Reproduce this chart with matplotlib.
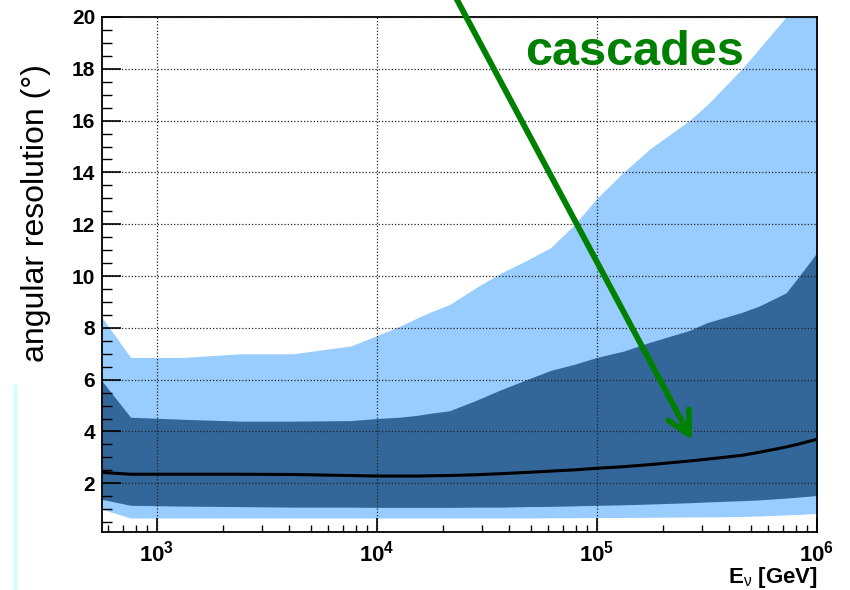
import numpy as np
import matplotlib
matplotlib.use('Agg')
import matplotlib.pyplot as plt
from matplotlib.ticker import FixedLocator, MultipleLocator, FuncFormatter, NullFormatter

plt.rcParams['font.family'] = ['Liberation Sans', 'DejaVu Sans']
plt.rcParams['mathtext.fontset'] = 'custom'
plt.rcParams['mathtext.rm'] = 'Liberation Sans'
plt.rcParams['mathtext.bf'] = 'Liberation Sans:bold'
plt.rcParams['mathtext.it'] = 'Liberation Sans:italic'

# log10 of neutrino energy (GeV) where the bands are sampled
log_e = [2.75, 2.88, 3.12, 3.38, 3.62, 3.88, 4.0, 4.1, 4.18, 4.24, 4.33, 4.45, 4.56,
         4.68, 4.79, 4.9, 5.0, 5.12, 5.24, 5.42, 5.5, 5.66, 5.74, 5.86, 5.92, 6.0]

# angular resolution in degrees
median = [2.42, 2.35, 2.35, 2.35, 2.34, 2.30, 2.28, 2.28, 2.28, 2.29, 2.30, 2.33, 2.37,
          2.42, 2.47, 2.52, 2.58, 2.64, 2.72, 2.86, 2.93, 3.08, 3.20, 3.40, 3.52, 3.70]
inner_hi = [5.95, 4.55, 4.47, 4.40, 4.40, 4.42, 4.50, 4.55, 4.62, 4.70, 4.80, 5.20, 5.60,
            6.00, 6.36, 6.60, 6.86, 7.10, 7.44, 7.90, 8.20, 8.60, 8.85, 9.35, 10.0, 10.9]
inner_lo = [1.38, 1.15, 1.12, 1.10, 1.08, 1.08, 1.07, 1.07, 1.07, 1.07, 1.07, 1.08, 1.08,
            1.10, 1.11, 1.13, 1.15, 1.17, 1.20, 1.25, 1.28, 1.33, 1.36, 1.43, 1.47, 1.53]
outer_hi = [8.40, 6.86, 6.86, 7.00, 7.00, 7.30, 7.70, 8.05, 8.37, 8.60, 8.90, 9.55, 10.1,
            10.6, 11.1, 12.0, 13.0, 14.0, 14.9, 16.0, 16.6, 18.0, 18.8, 20.0, 20.6, 21.5]
outer_lo = [1.00, 0.66, 0.66, 0.66, 0.66, 0.66, 0.66, 0.66, 0.66, 0.66, 0.66, 0.66, 0.66,
            0.66, 0.67, 0.67, 0.68, 0.68, 0.69, 0.70, 0.70, 0.72, 0.74, 0.78, 0.80, 0.84]

energy = 10 ** np.array(log_e)

fig = plt.figure(figsize=(8.5, 5.9), dpi=100)
ax = fig.add_axes([0.12, 0.0983, 0.841, 0.8729])

ax.fill_between(energy, outer_lo, outer_hi, color='#99ccff', lw=0, zorder=1)
ax.fill_between(energy, inner_lo, inner_hi, color='#336699', lw=0, zorder=2)
ax.plot(energy, median, color='black', lw=2.2, zorder=3)

ax.set_xscale('log')
ax.set_xlim(10 ** 2.75, 1e6)
ax.set_ylim(0.12, 20)

ax.set_axisbelow(False)
ax.grid(True, which='major', ls=(0, (1, 1.6)), color='#222222', lw=0.9)

ax.xaxis.set_major_locator(FixedLocator([1e3, 1e4, 1e5, 1e6]))
ax.xaxis.set_major_formatter(FuncFormatter(lambda v, p: r'$\mathbf{10^{%d}}$' % round(np.log10(v))))
ax.xaxis.set_minor_locator(FixedLocator([m * 10 ** d for d in range(2, 6) for m in range(2, 10)]))
ax.xaxis.set_minor_formatter(NullFormatter())
ax.yaxis.set_major_locator(MultipleLocator(2))
ax.yaxis.set_minor_locator(MultipleLocator(0.5))

ax.tick_params(axis='both', which='both', direction='in', color='black', top=False, right=False)
ax.tick_params(axis='y', which='major', length=14, width=1.2, pad=5, labelsize=15)
ax.tick_params(axis='y', which='minor', length=7, width=1.0)
ax.tick_params(axis='x', which='major', length=10, width=1.2, pad=6, labelsize=16)
ax.tick_params(axis='x', which='minor', length=5, width=1.0)
for lab in ax.get_yticklabels():
    lab.set_fontweight('bold')

for s in ax.spines.values():
    s.set_linewidth(1.3)

fig.text(36 / 850, 1 - 213 / 590, 'angular resolution (°)', rotation=90,
         ha='center', va='center', fontsize=23)
fig.text(818 / 850, 1 - 583 / 590, r'E$_\mathrm{ν}$ [GeV]', ha='right', va='baseline',
         fontsize=16, fontweight='bold')

ax.text(635 / 850, 1 - 65 / 590, 'cascades', transform=fig.transFigure, ha='center',
        va='baseline', fontsize=35, fontweight='bold', color='#008000')

ax.annotate('', xy=(692 / 850, 1 - 440 / 590), xytext=(455 / 850, 1 + 4 / 590),
            xycoords='figure fraction', textcoords='figure fraction', annotation_clip=False,
            arrowprops=dict(arrowstyle='->, head_length=0.8, head_width=0.42',
                            mutation_scale=20, color='#008000', lw=4.2, shrinkA=0, shrinkB=0))

# thin vertical rule at the left margin
fig.add_artist(plt.Line2D([15 / 850, 15 / 850], [0, 1 - 386 / 590], color='#ccffff', lw=2.5))

fig.savefig('out.png', dpi=100)
